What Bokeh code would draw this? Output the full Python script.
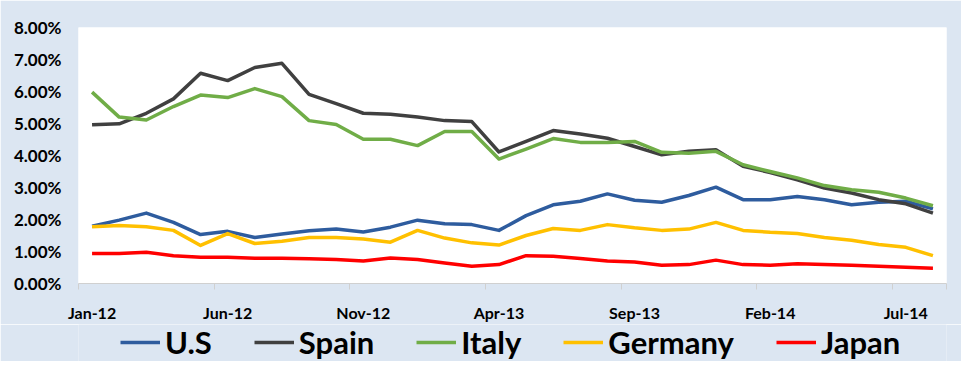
from bokeh.plotting import figure
from bokeh.layouts import column
from bokeh.models import FixedTicker, PrintfTickFormatter, Range1d, Legend, LegendItem
from bokeh.embed import file_html
from bokeh.resources import INLINE

months = ["Jan-12", "Feb-12", "Mar-12", "Apr-12", "May-12", "Jun-12", "Jul-12", "Aug-12",
          "Sep-12", "Oct-12", "Nov-12", "Dec-12", "Jan-13", "Feb-13", "Mar-13", "Apr-13",
          "May-13", "Jun-13", "Jul-13", "Aug-13", "Sep-13", "Oct-13", "Nov-13", "Dec-13",
          "Jan-14", "Feb-14", "Mar-14", "Apr-14", "May-14", "Jun-14", "Jul-14", "Aug-14"]

us = [1.79, 1.98, 2.20, 1.91, 1.53, 1.63, 1.44, 1.55, 1.65, 1.70, 1.61, 1.76, 1.98, 1.87, 1.84, 1.66,
      2.12, 2.46, 2.57, 2.80, 2.60, 2.54, 2.75, 3.01, 2.62, 2.62, 2.72, 2.62, 2.46, 2.54, 2.57, 2.33]
spain = [4.96, 4.99, 5.32, 5.77, 6.57, 6.34, 6.75, 6.88, 5.91, 5.62, 5.32, 5.29, 5.20, 5.09, 5.06, 4.11,
         4.44, 4.78, 4.67, 4.54, 4.28, 4.02, 4.13, 4.18, 3.66, 3.47, 3.24, 2.98, 2.83, 2.62, 2.49, 2.20]
italy = [5.98, 5.20, 5.11, 5.53, 5.89, 5.81, 6.09, 5.84, 5.09, 4.97, 4.51, 4.51, 4.31, 4.75, 4.75, 3.89,
         4.20, 4.53, 4.41, 4.41, 4.44, 4.10, 4.07, 4.13, 3.71, 3.50, 3.30, 3.06, 2.93, 2.85, 2.67, 2.43]
germany = [1.77, 1.81, 1.77, 1.66, 1.19, 1.56, 1.25, 1.32, 1.44, 1.44, 1.39, 1.29, 1.66, 1.42, 1.27, 1.20,
           1.50, 1.72, 1.66, 1.84, 1.74, 1.66, 1.70, 1.91, 1.66, 1.60, 1.56, 1.44, 1.35, 1.22, 1.13, 0.87]
japan = [0.94, 0.94, 0.98, 0.87, 0.82, 0.82, 0.79, 0.79, 0.77, 0.75, 0.70, 0.80, 0.75, 0.64, 0.54, 0.59,
         0.87, 0.85, 0.78, 0.70, 0.67, 0.57, 0.59, 0.73, 0.59, 0.57, 0.62, 0.59, 0.57, 0.54, 0.51, 0.48]

series_names = ["U.S", "Spain", "Italy", "Germany", "Japan"]
series_values = [us, spain, italy, germany, japan]
series_colors = ["#2E5C9E", "#404040", "#70AD47", "#FFC000", "#FF0000"]

y_ticks = [0, 1, 2, 3, 4, 5, 6, 7, 8]
label_step = 5

BG = "#DCE6F2"
FONT = "Lato"
W = 961

x = list(range(len(months)))

p = figure(width=W, height=324, output_backend="svg", toolbar_location=None,
           x_range=Range1d(-0.5, len(months) - 0.5), y_range=Range1d(0, 8))
p.background_fill_color = "white"
p.border_fill_color = BG
p.outline_line_color = None
p.min_border_left = 78
p.min_border_right = 15
p.min_border_top = 27
p.min_border_bottom = 40
p.xgrid.visible = False
p.ygrid.visible = False

for name, vals, col in zip(series_names, series_values, series_colors):
    p.line(x, vals, line_color=col, line_width=3.5, line_join="round")

major = list(range(0, len(months), label_step))
p.xaxis.ticker = FixedTicker(ticks=major, minor_ticks=[m - 0.5 for m in major] + [len(months) - 0.5])
p.xaxis.major_label_overrides = {i: months[i] for i in major}
p.xaxis.axis_line_color = "#D0D0D0"
p.xaxis.major_tick_line_color = None
p.xaxis.major_tick_out = 0
p.xaxis.minor_tick_line_color = "#D0D0D0"
p.xaxis.minor_tick_out = 6
p.xaxis.minor_tick_in = 0
p.xaxis.major_label_standoff = 13
p.xaxis.major_label_text_font = FONT
p.xaxis.major_label_text_font_style = "bold"
p.xaxis.major_label_text_font_size = "16px"
p.xaxis.major_label_text_color = "black"

p.yaxis.ticker = FixedTicker(ticks=y_ticks)
p.yaxis.formatter = PrintfTickFormatter(format="%.2f%%")
p.yaxis.axis_line_color = None
p.yaxis.major_tick_line_color = None
p.yaxis.major_tick_out = 0
p.yaxis.minor_tick_line_color = None
p.yaxis.major_label_standoff = 17
p.yaxis.major_label_text_font = FONT
p.yaxis.major_label_text_font_style = "bold"
p.yaxis.major_label_text_font_size = "17px"
p.yaxis.major_label_text_color = "black"

# legend strip below the chart; its lines carry the same series data but the
# strip's ranges are far away from it, so only the legend keys are visible
lg = figure(width=W, height=37, output_backend="svg", toolbar_location=None,
            x_axis_type=None, y_axis_type=None, min_border=0,
            x_range=Range1d(1000, 1001), y_range=Range1d(1000, 1001))
lg.background_fill_color = BG
lg.border_fill_color = BG
lg.outline_line_color = None
lg.xgrid.visible = False
lg.ygrid.visible = False
proxies = []
for name, vals, col in zip(series_names, series_values, series_colors):
    proxies.append(lg.line(x, vals, line_color=col, line_width=3.5))

legend = Legend(items=[LegendItem(label=n, renderers=[r]) for n, r in zip(series_names, proxies)],
                orientation="horizontal", location=(42, 0),
                background_fill_alpha=0, border_line_color=None,
                label_text_font=FONT, label_text_font_style="bold",
                label_text_font_size="31px", label_text_color="black",
                glyph_width=40, glyph_height=30, label_standoff=5, spacing=42,
                padding=0, margin=0)
lg.add_layout(legend, "center")

open("out.html", "w").write(file_html(column(p, lg, spacing=0), INLINE))
